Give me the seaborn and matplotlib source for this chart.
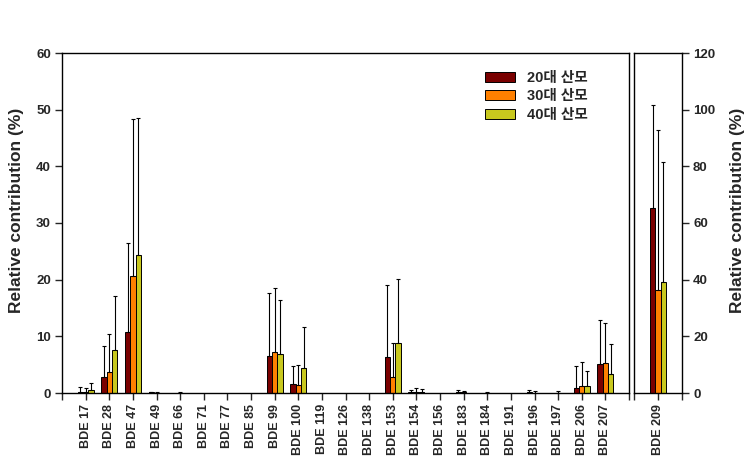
import matplotlib
matplotlib.use("Agg")
import matplotlib.pyplot as plt
import seaborn as sns
import pandas as pd
import numpy as np

# ---------------- data ----------------
categories = ["BDE 17", "BDE 28", "BDE 47", "BDE 49", "BDE 66", "BDE 71", "BDE 77",
              "BDE 85", "BDE 99", "BDE 100", "BDE 119", "BDE 126", "BDE 138",
              "BDE 153", "BDE 154", "BDE 156", "BDE 183", "BDE 184", "BDE 191",
              "BDE 196", "BDE 197", "BDE 206", "BDE 207"]
groups = ["20대 산모", "30대 산모", "40대 산모"]

mean_20 = [0.2, 2.8, 10.7, 0.1, 0.0, 0, 0, 0, 6.5, 1.6, 0, 0, 0, 6.35, 0.2, 0,
           0.2, 0.0, 0, 0.2, 0, 0.95, 5.1]
sd_20 = [0.9, 5.5, 15.8, 0.15, 0.0, 0, 0, 0, 11.1, 3.1, 0, 0, 0, 12.75, 0.3, 0,
         0.4, 0.0, 0, 0.4, 0, 3.75, 7.7]
mean_30 = [0.1, 3.65, 20.6, 0.05, 0.05, 0, 0, 0, 7.2, 1.5, 0, 0, 0, 2.9, 0.1, 0,
           0.1, 0.05, 0, 0.05, 0.0, 1.2, 5.3]
sd_30 = [0.7, 6.85, 27.7, 0.15, 0.15, 0, 0, 0, 11.3, 3.4, 0, 0, 0, 6.0, 0.8, 0,
         0.2, 0.1, 0, 0.25, 0.3, 4.2, 7.05]
mean_40 = [0.5, 7.6, 24.3, 0, 0, 0, 0, 0, 6.9, 4.5, 0, 0, 0, 8.8, 0.15, 0,
           0, 0, 0, 0, 0, 1.2, 3.35]
sd_40 = [1.2, 9.6, 24.2, 0, 0, 0, 0, 0, 9.6, 7.1, 0, 0, 0, 11.4, 0.5, 0,
         0, 0, 0, 0, 0, 2.6, 5.25]

cat_209 = ["BDE 209"]
mean_209 = [65.3, 36.4, 39.3]
sd_209 = [36.2, 56.6, 42.4]

colors = ["#7A0000", "#FF8000", "#C8C81E"]

# ---------------- frames ----------------
means = [mean_20, mean_30, mean_40]
sds = [sd_20, sd_30, sd_40]
rows = []
for g, m, s in zip(groups, means, sds):
    for c, v, e in zip(categories, m, s):
        rows.append({"cat": c, "grp": g, "val": v, "sd": e})
df = pd.DataFrame(rows)

rows2 = []
for g, v, e in zip(groups, mean_209, sd_209):
    rows2.append({"cat": cat_209[0], "grp": g, "val": v, "sd": e})
df2 = pd.DataFrame(rows2)

# ---------------- style ----------------
sns.set_theme(style="ticks")
plt.rcParams["font.family"] = ["Liberation Sans", "Noto Sans CJK KR"]
plt.rcParams["axes.linewidth"] = 1.0
plt.rcParams["xtick.major.width"] = 1.0
plt.rcParams["ytick.major.width"] = 1.0
plt.rcParams["xtick.minor.width"] = 1.0

fig = plt.figure(figsize=(7.48, 4.75), dpi=100)
W, H = 748, 475
ax = fig.add_axes([62 / W, 1 - 393 / H, (629 - 62) / W, 340 / H])
ax2 = fig.add_axes([634 / W, 1 - 393 / H, (682 - 634) / W, 340 / H])

pal = dict(zip(groups, colors))
sns.barplot(data=df, x="cat", y="val", hue="grp", hue_order=groups, palette=pal,
            order=categories, width=0.675, edgecolor="black", linewidth=0.7,
            errorbar=None, ax=ax, legend=True, saturation=1)
sns.barplot(data=df2, x="cat", y="val", hue="grp", hue_order=groups, palette=pal,
            width=0.675, edgecolor="black", linewidth=0.7,
            errorbar=None, ax=ax2, legend=False, saturation=1)


def add_err(axis, frame, cats):
    for cont, g in zip(axis.containers, groups):
        sub = frame[frame["grp"] == g].set_index("cat").loc[cats]
        for bar, (v, e) in zip(cont.patches, zip(sub["val"], sub["sd"])):
            if e <= 0:
                continue
            xc = bar.get_x() + bar.get_width() / 2
            axis.errorbar([xc], [v], yerr=[[0], [e]], fmt="none", ecolor="black",
                          elinewidth=0.8, capsize=1.6, capthick=0.8, zorder=1)


add_err(ax, df, categories)
add_err(ax2, df2, cat_209)

TICK_FS = 9.5
LABEL_FS = 12.5

# left axis
ax.set_xlim(-1, len(categories))
ax.set_ylim(0, 60)
ax.set_yticks(np.arange(0, 61, 10))
ax.set_xticks(range(len(categories)))
ax.set_xticklabels(categories, rotation=90, fontsize=9, fontweight="bold")
ax.set_xticks([-1, len(categories)], minor=True)
ax.tick_params(axis="x", which="minor", length=5, direction="out")
ax.tick_params(axis="both", which="major", length=5, direction="out", pad=3)
for lab in ax.get_yticklabels():
    lab.set_fontsize(TICK_FS)
    lab.set_fontweight("bold")
ax.set_xlabel("")
ax.set_ylabel("Relative contribution (%)", fontsize=LABEL_FS, fontweight="bold")
ax.yaxis.set_label_coords(-0.067, 0.538)
for sp in ax.spines.values():
    sp.set_visible(True)
    sp.set_color("black")

# right axis
ax2.set_xlim(-1, 1)
ax2.set_ylim(0, 120)
ax2.yaxis.tick_right()
ax2.yaxis.set_label_position("right")
ax2.set_yticks(np.arange(0, 121, 20))
ax2.set_xticks([0])
ax2.set_xticklabels(cat_209, rotation=90, fontsize=9, fontweight="bold")
ax2.set_xticks([-1, 1], minor=True)
ax2.tick_params(axis="x", which="minor", length=5, direction="out")
ax2.tick_params(axis="both", which="major", length=5, direction="out", pad=3)
for lab in ax2.get_yticklabels():
    lab.set_fontsize(TICK_FS)
    lab.set_fontweight("bold")
ax2.set_xlabel("")
ax2.set_ylabel("Relative contribution (%)", fontsize=LABEL_FS, fontweight="bold")
ax2.yaxis.set_label_coords(2.0, 0.538)
for sp in ax2.spines.values():
    sp.set_visible(True)
    sp.set_color("black")

# legend
sns.move_legend(ax, "upper left", bbox_to_anchor=(485 / W, 1 - 71 / H),
                bbox_transform=fig.transFigure, frameon=False, title=None,
                prop={"size": 10.5, "weight": "bold"}, handlelength=2.05,
                handleheight=0.7, labelspacing=0.3, handletextpad=0.85,
                borderpad=0, borderaxespad=0)

fig.savefig("out.png", dpi=100)
